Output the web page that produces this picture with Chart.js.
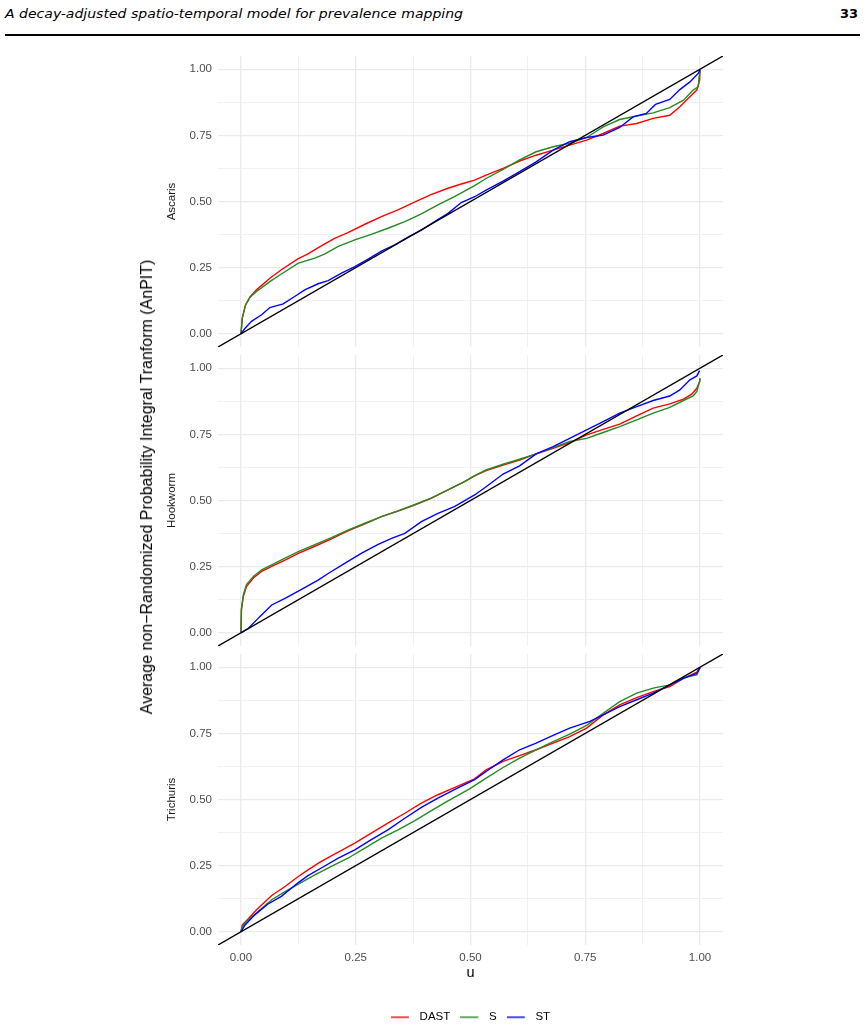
<!DOCTYPE html>
<html>
<head>
<meta charset="utf-8">
<script src="https://cdn.jsdelivr.net/npm/chart.js@4.4.0/dist/chart.umd.min.js"></script>
<style>
html, body { margin: 0; padding: 0; width: 865px; height: 1028px; overflow: hidden; background: #fff; }
#wrap { position: relative; width: 865px; height: 1028px; overflow: hidden; }
canvas { position: absolute; left: 0; }
#hdrTitle { position: absolute; left: 5px; top: 6px; font: oblique 13px "DejaVu Sans", sans-serif; line-height: 16px; white-space: nowrap; transform-origin: 0 0; color: #000; }
#hdrPage { position: absolute; right: 7px; top: 6px; font: bold 13px "DejaVu Sans", sans-serif; line-height: 16px; color: #000; }
#hdrRule { position: absolute; left: 5px; top: 34px; width: 855px; height: 2px; background: #000; }
#ytitle { position: absolute; left: 147px; top: 487px; transform: translate(-50%, -50%) rotate(-90deg); white-space: nowrap; font: 16px "Liberation Sans", Arial, sans-serif; color: #000; }
</style>
</head>
<body>
<div id="wrap">
  <div id="hdrTitle">A decay-adjusted spatio-temporal model for prevalence mapping</div>
  <div id="hdrPage">33</div>
  <div id="hdrRule"></div>
  <canvas id="c1" width="865" height="300" style="top:50px"></canvas>
  <canvas id="c2" width="865" height="300" style="top:350px"></canvas>
  <canvas id="c3" width="865" height="383" style="top:650px"></canvas>
  <div id="ytitle">Average non−Randomized Probability Integral Tranform (AnPIT)</div>
</div>
<script>
// ---------------- data ----------------
const PANELS = ['Ascaris', 'Hookworm', 'Trichuris'];
const MODELS = ['DAST', 'S', 'ST'];
const U_TICKS = [0, 0.125, 0.25, 0.375, 0.5, 0.625, 0.75, 0.875, 1];
const U_TICK_LABELS = ['0.00', '', '0.25', '', '0.50', '', '0.75', '', '1.00'];
const P_TICKS = [0, 0.125, 0.25, 0.375, 0.5, 0.625, 0.75, 0.875, 1];
const P_TICK_LABELS = ['0.00', '', '0.25', '', '0.50', '', '0.75', '', '1.00'];

// Ascaris
const ascarisDastU = [0, 0.003, 0.01, 0.02, 0.034, 0.063, 0.088, 0.123, 0.146, 0.175, 0.204, 0.233, 0.27, 0.306, 0.342, 0.378, 0.414, 0.451, 0.48, 0.509, 0.534, 0.571, 0.607, 0.643, 0.68, 0.716, 0.753, 0.789, 0.825, 0.862, 0.898, 0.934, 0.956, 0.978, 0.993, 0.999, 1.0];
const ascarisDastP = [0, 0.06, 0.109, 0.14, 0.166, 0.21, 0.242, 0.282, 0.302, 0.332, 0.361, 0.382, 0.414, 0.443, 0.468, 0.498, 0.526, 0.55, 0.566, 0.581, 0.6, 0.625, 0.653, 0.675, 0.694, 0.713, 0.732, 0.757, 0.785, 0.795, 0.814, 0.826, 0.858, 0.896, 0.921, 0.958, 0.996];
const ascarisSU = [0, 0.003, 0.01, 0.02, 0.034, 0.063, 0.088, 0.125, 0.161, 0.183, 0.212, 0.248, 0.284, 0.32, 0.357, 0.393, 0.429, 0.465, 0.509, 0.534, 0.571, 0.607, 0.643, 0.68, 0.716, 0.753, 0.789, 0.825, 0.862, 0.898, 0.934, 0.964, 0.985, 0.996, 0.998, 1.0];
const ascarisSP = [0, 0.06, 0.109, 0.138, 0.16, 0.197, 0.226, 0.267, 0.286, 0.302, 0.33, 0.355, 0.376, 0.399, 0.424, 0.453, 0.487, 0.518, 0.56, 0.587, 0.621, 0.657, 0.688, 0.707, 0.72, 0.742, 0.782, 0.81, 0.823, 0.835, 0.855, 0.883, 0.921, 0.933, 0.971, 0.996];
const ascarisStU = [0, 0.009, 0.023, 0.045, 0.063, 0.092, 0.117, 0.139, 0.168, 0.19, 0.219, 0.248, 0.277, 0.306, 0.335, 0.364, 0.393, 0.422, 0.451, 0.48, 0.509, 0.534, 0.571, 0.607, 0.643, 0.68, 0.716, 0.753, 0.789, 0.825, 0.854, 0.883, 0.903, 0.934, 0.956, 0.978, 0.996, 1.0];
const ascarisStP = [0, 0.021, 0.047, 0.072, 0.099, 0.113, 0.141, 0.166, 0.189, 0.201, 0.229, 0.254, 0.282, 0.312, 0.336, 0.365, 0.392, 0.424, 0.455, 0.496, 0.518, 0.543, 0.577, 0.613, 0.65, 0.694, 0.726, 0.742, 0.751, 0.78, 0.82, 0.833, 0.867, 0.886, 0.923, 0.952, 0.984, 0.999];

// Hookworm
const hookDastU = [0, 0.001, 0.005, 0.012, 0.027, 0.045, 0.067, 0.096, 0.125, 0.161, 0.197, 0.233, 0.27, 0.306, 0.342, 0.378, 0.414, 0.451, 0.487, 0.509, 0.534, 0.571, 0.607, 0.643, 0.68, 0.716, 0.753, 0.789, 0.825, 0.862, 0.898, 0.934, 0.964, 0.982, 0.993, 0.999, 1.0];
const hookDastP = [0, 0.086, 0.136, 0.175, 0.207, 0.232, 0.251, 0.275, 0.3, 0.327, 0.355, 0.385, 0.412, 0.439, 0.46, 0.483, 0.508, 0.54, 0.571, 0.593, 0.613, 0.634, 0.653, 0.676, 0.697, 0.719, 0.748, 0.769, 0.789, 0.82, 0.849, 0.865, 0.883, 0.902, 0.924, 0.95, 0.962];
const hookSU = [0, 0.001, 0.005, 0.012, 0.027, 0.045, 0.067, 0.096, 0.125, 0.161, 0.197, 0.233, 0.27, 0.306, 0.342, 0.378, 0.414, 0.451, 0.487, 0.509, 0.534, 0.571, 0.607, 0.643, 0.68, 0.716, 0.753, 0.789, 0.825, 0.862, 0.898, 0.934, 0.964, 0.985, 0.993, 0.999, 1.0];
const hookSP = [0, 0.09, 0.142, 0.182, 0.213, 0.238, 0.257, 0.282, 0.307, 0.333, 0.36, 0.388, 0.414, 0.439, 0.461, 0.484, 0.509, 0.54, 0.571, 0.594, 0.616, 0.637, 0.656, 0.676, 0.7, 0.723, 0.735, 0.757, 0.779, 0.805, 0.83, 0.852, 0.878, 0.895, 0.912, 0.95, 0.962];
const hookStU = [0, 0.016, 0.041, 0.067, 0.096, 0.132, 0.168, 0.19, 0.226, 0.262, 0.299, 0.328, 0.357, 0.393, 0.429, 0.465, 0.509, 0.534, 0.571, 0.607, 0.643, 0.68, 0.716, 0.753, 0.789, 0.825, 0.862, 0.898, 0.934, 0.956, 0.978, 0.993, 0.999];
const hookStP = [0, 0.016, 0.061, 0.105, 0.13, 0.164, 0.199, 0.224, 0.262, 0.3, 0.334, 0.357, 0.376, 0.42, 0.451, 0.477, 0.521, 0.552, 0.6, 0.631, 0.676, 0.704, 0.735, 0.767, 0.798, 0.83, 0.855, 0.878, 0.895, 0.918, 0.956, 0.971, 0.991];

// Trichuris
const trichDastU = [0, 0.003, 0.016, 0.034, 0.067, 0.096, 0.125, 0.146, 0.175, 0.212, 0.248, 0.284, 0.32, 0.357, 0.393, 0.429, 0.465, 0.509, 0.534, 0.571, 0.607, 0.643, 0.68, 0.716, 0.753, 0.789, 0.825, 0.862, 0.898, 0.934, 0.964, 0.993, 1.0];
const trichDastP = [0, 0.026, 0.049, 0.083, 0.137, 0.171, 0.209, 0.234, 0.266, 0.301, 0.335, 0.373, 0.411, 0.448, 0.486, 0.518, 0.545, 0.578, 0.612, 0.644, 0.666, 0.688, 0.713, 0.738, 0.77, 0.82, 0.858, 0.885, 0.908, 0.927, 0.958, 0.981, 0.999];
const trichSU = [0, 0.003, 0.012, 0.038, 0.067, 0.096, 0.125, 0.161, 0.197, 0.233, 0.27, 0.306, 0.342, 0.378, 0.414, 0.451, 0.498, 0.534, 0.571, 0.607, 0.643, 0.68, 0.716, 0.753, 0.789, 0.825, 0.862, 0.898, 0.934, 0.964, 0.993, 1.0];
const trichSP = [0, 0.02, 0.039, 0.077, 0.121, 0.152, 0.18, 0.215, 0.247, 0.278, 0.316, 0.354, 0.385, 0.419, 0.457, 0.495, 0.54, 0.581, 0.621, 0.656, 0.688, 0.719, 0.747, 0.78, 0.826, 0.87, 0.902, 0.921, 0.933, 0.961, 0.971, 0.999];
const trichStU = [0, 0.009, 0.03, 0.059, 0.088, 0.125, 0.146, 0.175, 0.212, 0.248, 0.284, 0.32, 0.357, 0.393, 0.429, 0.465, 0.509, 0.534, 0.571, 0.607, 0.643, 0.68, 0.716, 0.76, 0.789, 0.825, 0.862, 0.898, 0.934, 0.964, 0.993, 1.0];
const trichStP = [0, 0.026, 0.064, 0.105, 0.134, 0.186, 0.212, 0.241, 0.278, 0.31, 0.348, 0.385, 0.429, 0.47, 0.505, 0.537, 0.575, 0.606, 0.65, 0.688, 0.713, 0.742, 0.77, 0.795, 0.82, 0.851, 0.877, 0.902, 0.933, 0.958, 0.977, 0.999];

// ---------------- chart building ----------------
const AXIS_MIN = -0.05, AXIS_MAX = 1.05;
const COLORS = { DAST: '#ff0000', S: '#228b22', ST: '#0000ff' };
const ORDERS = { DAST: 3, S: 2, ST: 1 };
const FONT = '"Liberation Sans", Arial, Helvetica, sans-serif';
Chart.defaults.font.family = FONT;

const pts = (us, ps) => us.map((u, i) => ({ x: u, y: ps[i] }));
const isMajor = v => Math.abs(v * 4 - Math.round(v * 4)) < 1e-9;

// legend key: an 18px line followed by a little blank space
function legendKey(color) {
  const c = document.createElement('canvas');
  c.width = 23; c.height = 4;
  const g = c.getContext('2d');
  g.strokeStyle = color; g.lineWidth = 1.4;
  g.beginPath(); g.moveTo(0, 2); g.lineTo(18, 2); g.stroke();
  return c;
}

function zeroPad(s) { s.paddingTop = 0; s.paddingBottom = 0; s.paddingLeft = 0; s.paddingRight = 0; }

function makePanel(canvasId, panelName, series, last, top, bottom) {
  const datasets = MODELS.map((m, k) => ({
    label: m,
    data: pts(series[k][0], series[k][1]),
    borderColor: COLORS[m],
    backgroundColor: COLORS[m],
    borderWidth: 1.4,
    pointStyle: legendKey(COLORS[m]),
    order: ORDERS[m]
  }));
  datasets.push({
    label: 'identity',
    data: [AXIS_MIN, AXIS_MAX].map(v => ({ x: v, y: v })),
    borderColor: '#000000',
    backgroundColor: '#000000',
    borderWidth: 1.4,
    order: 0
  });
  const gridOpts = {
    color: c => (c.tick && isMajor(c.tick.value)) ? '#ebebeb' : '#f1f1f1',
    lineWidth: c => (c.tick && isMajor(c.tick.value)) ? 1.3 : 1.0,
    drawTicks: false
  };
  const chart = new Chart(document.getElementById(canvasId), {
    type: 'line',
    data: { datasets },
    options: {
      responsive: false,
      animation: false,
      devicePixelRatio: 1,
      events: [],
      layout: { padding: { left: 165, right: 142, top: top, bottom: 0 } },
      elements: { point: { radius: 0 }, line: { tension: 0 } },
      plugins: {
        tooltip: { enabled: false },
        legend: {
          display: last,
          position: 'bottom',
          fullSize: false,
          labels: {
            usePointStyle: true,
            pointStyleWidth: 23,
            padding: 10,
            color: '#000000',
            font: { size: 11.5, family: FONT },
            filter: item => item.text !== 'identity',
            sort: (a, b) => a.datasetIndex - b.datasetIndex
          }
        }
      },
      scales: {
        x: {
          type: 'linear',
          min: AXIS_MIN,
          max: AXIS_MAX,
          afterBuildTicks: s => { s.ticks = U_TICKS.map(v => ({ value: v })); },
          afterFit: s => { s.height = s.chart.$xh || 0; zeroPad(s); },
          grid: gridOpts,
          border: { display: false },
          ticks: {
            display: last,
            autoSkip: false,
            maxRotation: 0,
            padding: 6,
            color: '#4d4d4d',
            font: { size: 11.5, family: FONT },
            callback: (v, i) => U_TICK_LABELS[i]
          },
          title: {
            display: last,
            text: 'u',
            color: '#000000',
            font: { size: 14.5, family: FONT },
            padding: { top: 0, bottom: 0 }
          }
        },
        y: {
          type: 'linear',
          min: AXIS_MIN,
          max: AXIS_MAX,
          afterBuildTicks: s => { s.ticks = P_TICKS.map(v => ({ value: v })); },
          afterFit: s => { s.width = 53; zeroPad(s); },
          grid: gridOpts,
          border: { display: false },
          ticks: {
            autoSkip: false,
            padding: 6,
            color: '#4d4d4d',
            font: { size: 11.5, family: FONT },
            callback: (v, i) => P_TICK_LABELS[i]
          },
          title: {
            display: true,
            text: panelName,
            color: '#1a1a1a',
            font: { size: 11.5, family: FONT },
            padding: { top: 0, bottom: 0 }
          }
        }
      }
    }
  });
  // pin the plotting area to the requested rows
  chart.$xh = 0;
  chart.update();
  for (let k = 0; k < 5; k++) {
    const a = chart.chartArea;
    const dt = top - a.top;
    const db = a.bottom - bottom;
    if (Math.abs(dt) < 0.01 && Math.abs(db) < 0.01) break;
    chart.options.layout.padding.top += dt;
    chart.$xh = Math.max(0, chart.$xh + db);
    chart.update();
  }
  return chart;
}

makePanel('c1', PANELS[0], [[ascarisDastU, ascarisDastP], [ascarisSU, ascarisSP], [ascarisStU, ascarisStP]], false, 6, 297);
makePanel('c2', PANELS[1], [[hookDastU, hookDastP], [hookSU, hookSP], [hookStU, hookStP]], false, 5, 296);
const c3 = makePanel('c3', PANELS[2], [[trichDastU, trichDastP], [trichSU, trichSP], [trichStU, trichStP]], true, 4, 295);
// place the "u" title so that its centre is at page row 973 (canvas row 323)
(function () {
  const xs = c3.scales.x;
  const lh = 14.5 * 1.2;
  c3.options.scales.x.title.padding.bottom = Math.max(0, xs.bottom - lh / 2 - 323);
  c3.update();
})();

// fit header width to the reference
(function () {
  const ht = document.getElementById('hdrTitle');
  const w = ht.getBoundingClientRect().width;
  ht.style.transform = 'scaleX(' + (458 / w) + ')';
})();
</script>
</body>
</html>
